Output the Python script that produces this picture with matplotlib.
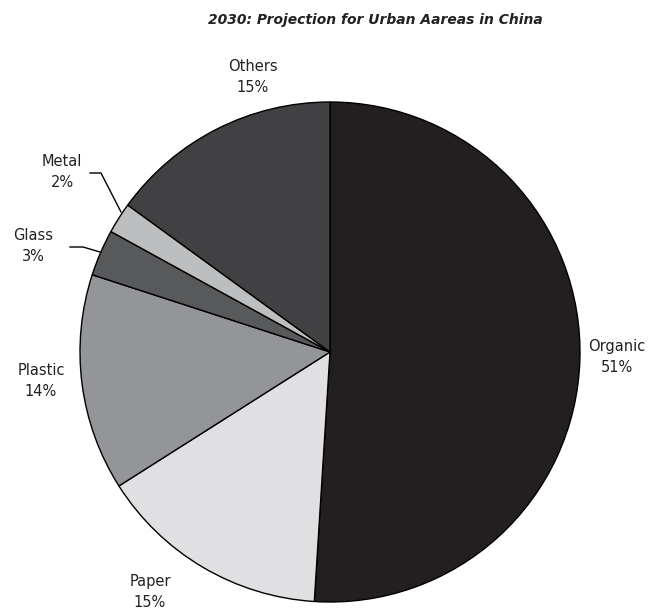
import matplotlib
matplotlib.use("Agg")
import matplotlib.pyplot as plt

# waste composition, clockwise from 12 o'clock
categories = ["Organic", "Paper", "Plastic", "Glass", "Metal", "Others"]
shares = [51, 15, 14, 3, 2, 15]
colors = ["#231f20", "#e0e0e2", "#939598", "#58595b", "#bcbec0", "#414042"]

W, H = 649, 613
CX, CY, R = 330, 352, 250

fig = plt.figure(figsize=(W / 100, H / 100), dpi=100)
ax = fig.add_axes([(CX - R) / W, (H - CY - R) / H, 2 * R / W, 2 * R / H])

ax.pie(shares, colors=colors, startangle=90, counterclock=False, radius=1,
       center=(0, 0), wedgeprops=dict(edgecolor="black", linewidth=1.0),
       frame=False)
ax.set_xlim(-1, 1)
ax.set_ylim(-1, 1)
ax.axis("off")


def px(x, y):
    # pixel position -> data coordinates of the pie axes
    return (x - CX) / R, (CY - y) / R


label_pos = {
    "Organic": (617, 357),
    "Paper": (150, 592),
    "Plastic": (41, 381),
    "Glass": (33, 246),
    "Metal": (62, 172),
    "Others": (253, 77),
}
for name, val in zip(categories, shares):
    x, y = px(*label_pos[name])
    ax.text(x, y, f"{name}\n{val}%", ha="center", va="center",
            fontsize=10.5, family="DejaVu Sans", color="#222222",
            linespacing=1.45, clip_on=False)

# leader lines for the two thin slices
for pts in ([(90, 173), (101, 173), (121, 212)],
            [(70, 247), (83, 247), (100, 252)]):
    xs, ys = zip(*[px(*p) for p in pts])
    ax.plot(xs, ys, color="black", lw=1.0, clip_on=False)

fig.text(375 / W, 1 - 20 / H, "2030: Projection for Urban Aareas in China",
         ha="center", va="center", fontsize=10, fontweight="bold",
         fontstyle="italic", family="DejaVu Sans", color="#222222")

fig.savefig("out.png", dpi=100, facecolor="white")
